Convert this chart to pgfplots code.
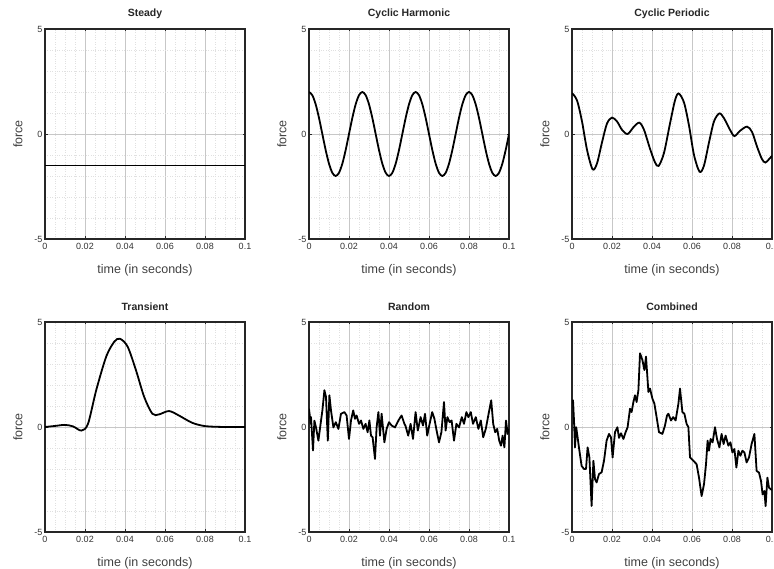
\documentclass[border=0pt]{standalone}
\usepackage{pgfplots}
\pgfplotsset{compat=1.18}
\usepackage{fontspec}
\setmainfont{Liberation Sans}
\pgfplotsset{
  sub/.style={
    scale only axis, width=200pt, height=210pt,
    anchor=north west,
    xmin=0, xmax=0.1, ymin=-5, ymax=5,
    xtick={0,0.02,0.04,0.06,0.08,0.1},
    xticklabels={0,0.02,0.04,0.06,0.08,0.1},
    ytick={-5,0,5},
    yticklabels={-5,0,5},
    /pgf/number format/assume math mode=true,
    minor x tick num=3, minor y tick num=4,
    grid=both,
    major grid style={draw=black!22, line width=0.6pt},
    minor grid style={draw=black!12, dotted, line width=0.4pt},
    axis line style={draw=black!85, line width=1.3pt},
    tick style={draw=black!85, line width=0.6pt},
    major tick length=2.5pt, minor tick length=0pt,
    tick align=inside,
    tick label style={font=\fontsize{9}{10}\selectfont, text=black!80},
    xticklabel style={yshift=-1pt},
    yticklabel style={xshift=1pt},
    label style={font=\fontsize{12.5}{14}\selectfont, text=black!75},
    xlabel={time (in seconds)},
    ylabel={force},
    xlabel style={at={(axis description cs:0.5,-0.148)}, anchor=center},
    ylabel style={at={(axis description cs:-0.135,0.5)}, anchor=center},
    title style={font=\bfseries\fontsize{10.5}{12}\selectfont, text=black!85, at={(axis description cs:0.5,1.045)}, anchor=center},
    cycle list={{black, line width=1.8pt, mark=none}},
    every axis plot/.append style={black, line width=1.8pt, mark=none},
    clip=true,
  }
}
\begin{document}
\begin{tikzpicture}
\useasboundingbox (0,0) rectangle (774pt,-569pt);

% Steady
\begin{axis}[sub, at={(45pt,-29pt)}, title={Steady}]
\addplot[black, line width=1.8pt] coordinates {(0,-1.5) (0.05,-1.5) (0.1,-1.5)};
\end{axis}

% Cyclic Harmonic
\begin{axis}[sub, at={(309pt,-29pt)}, title={Cyclic Harmonic}]
\addplot[smooth] coordinates {
(0,2) (0.001667,1.848) (0.003333,1.414) (0.005,0.765) (0.006667,0) (0.008333,-0.765)
(0.01,-1.414) (0.011667,-1.848) (0.013333,-2) (0.015,-1.848) (0.016667,-1.414) (0.018333,-0.765)
(0.02,0) (0.021667,0.765) (0.023333,1.414) (0.025,1.848) (0.026667,2) (0.028333,1.848)
(0.03,1.414) (0.031667,0.765) (0.033333,0) (0.035,-0.765) (0.036667,-1.414) (0.038333,-1.848)
(0.04,-2) (0.041667,-1.848) (0.043333,-1.414) (0.045,-0.765) (0.046667,0) (0.048333,0.765)
(0.05,1.414) (0.051667,1.848) (0.053333,2) (0.055,1.848) (0.056667,1.414) (0.058333,0.765)
(0.06,0) (0.061667,-0.765) (0.063333,-1.414) (0.065,-1.848) (0.066667,-2) (0.068333,-1.848)
(0.07,-1.414) (0.071667,-0.765) (0.073333,0) (0.075,0.765) (0.076667,1.414) (0.078333,1.848)
(0.08,2) (0.081667,1.848) (0.083333,1.414) (0.085,0.765) (0.086667,0) (0.088333,-0.765)
(0.09,-1.414) (0.091667,-1.848) (0.093333,-2) (0.095,-1.848) (0.096667,-1.414) (0.098333,-0.765)
(0.1,0)};
\end{axis}

% Cyclic Periodic
\begin{axis}[sub, at={(572pt,-29pt)}, title={Cyclic Periodic}]
\addplot[smooth] coordinates {
(0,1.95) (0.0025,1.6) (0.005,0.6) (0.0075,-0.75) (0.0103,-1.68) (0.0125,-1.4)
(0.015,-0.4) (0.0175,0.5) (0.020,0.78) (0.0225,0.6) (0.025,0.2) (0.0278,0.0)
(0.031,0.35) (0.0337,0.54) (0.036,0.2) (0.039,-0.7) (0.0415,-1.35) (0.0433,-1.52)
(0.046,-0.9) (0.049,0.5) (0.0515,1.6) (0.0533,1.93) (0.056,1.5) (0.0585,0.4)
(0.061,-1.0) (0.0638,-1.8) (0.066,-1.5) (0.0685,-0.4) (0.071,0.6) (0.0737,0.98)
(0.076,0.75) (0.079,0.2) (0.0812,-0.1) (0.084,0.15) (0.0875,0.35) (0.090,0.1)
(0.0925,-0.6) (0.095,-1.2) (0.0967,-1.36) (0.0985,-1.2) (0.1,-1.04)};
\end{axis}

% Transient
\begin{axis}[sub, at={(45pt,-322pt)}, title={Transient}]
\addplot[smooth] coordinates {
(0,0) (0.005,0.05) (0.0099,0.1) (0.014,0.03) (0.0182,-0.17) (0.0215,0.15)
(0.0256,1.75) (0.0306,3.35) (0.0347,4.07) (0.0375,4.2) (0.0413,3.83) (0.0455,2.7)
(0.0496,1.43) (0.0537,0.63) (0.057,0.6) (0.062,0.76) (0.0669,0.55) (0.0736,0.2)
(0.0802,0.04) (0.09,0) (0.1,0)};
\end{axis}

% Random
\begin{axis}[sub, at={(309pt,-322pt)}, title={Random}]
\addplot[line join=round] coordinates {
(0,0.87) (0.00085,0.15) (0.001,0.47) (0.002,-1.12) (0.0027,0.3) (0.0035,-0.02)
(0.0047,-0.65) (0.0058,0.15) (0.0067,0.79) (0.0077,1.75) (0.0085,1.43) (0.0094,-0.65)
(0.0102,1.51) (0.011,0.79) (0.0122,-0.02) (0.0134,0.23) (0.0147,-0.09) (0.016,0.63)
(0.0177,0.71) (0.0188,0.55) (0.02,-0.57) (0.021,0.31) (0.0221,0.79) (0.023,0.39)
(0.0238,0.55) (0.025,0.15) (0.026,0.31) (0.0272,-0.09) (0.0283,0.15) (0.0293,-0.25)
(0.0302,0.31) (0.031,-0.41) (0.0318,-0.49) (0.033,-1.52) (0.0338,-0.02) (0.0347,0.71)
(0.0355,-0.41) (0.0363,0.63) (0.0377,-0.73) (0.0388,-0.09) (0.04,0.23) (0.0413,0.07)
(0.043,-0.02) (0.0447,0.31) (0.0463,0.55) (0.0477,0.15) (0.0482,0.07) (0.0496,-0.41)
(0.0508,0.15) (0.052,-0.57) (0.0533,0.71) (0.0544,-0.17) (0.0558,0.47) (0.057,0.07)
(0.058,0.63) (0.0591,-0.41) (0.0603,0.15) (0.0616,0.71) (0.0627,0.39) (0.0638,-0.17)
(0.065,-0.73) (0.0662,-0.25) (0.0675,1.19) (0.0683,-0.17) (0.0692,0.47) (0.0703,0.23)
(0.0713,0.31) (0.0725,-0.65) (0.0737,0.15) (0.075,-0.02) (0.0764,0.47) (0.0775,0.15)
(0.0787,0.71) (0.0797,0.47) (0.0809,0.71) (0.082,0.15) (0.0834,0.47) (0.0847,-0.09)
(0.0859,0.31) (0.0871,-0.49) (0.0884,-0.09) (0.0898,0.63) (0.0911,1.27) (0.0921,0.15)
(0.0931,-0.25) (0.0941,-0.09) (0.0951,-0.65) (0.096,-0.89) (0.0968,-0.41) (0.0977,-0.97)
(0.0985,0.31) (0.0993,-0.33) (0.1,-0.09)};
\end{axis}

% Combined
\begin{axis}[sub, at={(572pt,-322pt)}, title={Combined}]
\addplot[line join=round] coordinates {
(0,1.2) (0.0005,1.27) (0.001,0.31) (0.0015,-0.97) (0.0021,-0.01) (0.0028,-0.49)
(0.0037,-1.13) (0.0048,-1.85) (0.006,-2.0) (0.007,-2.0) (0.0078,-0.97) (0.0087,-1.45)
(0.0098,-3.76) (0.0107,-1.61) (0.0115,-2.48) (0.0123,-2.64) (0.0135,-2.24) (0.0148,-2.16)
(0.016,-1.61) (0.0173,-0.65) (0.0185,-0.33) (0.0195,-0.49) (0.0203,-1.45) (0.0215,-0.25)
(0.0227,-0.01) (0.0235,-0.52) (0.0245,-0.3) (0.0257,-0.57) (0.0268,-0.25) (0.0278,-0.01)
(0.029,0.87) (0.0298,0.71) (0.0307,1.19) (0.0315,1.51) (0.0323,1.19) (0.0332,1.75)
(0.034,3.51) (0.0352,3.19) (0.0362,2.71) (0.037,3.35) (0.0382,1.67) (0.039,1.83)
(0.0402,1.35) (0.0412,1.11) (0.0423,0.47) (0.0435,-0.25) (0.0452,-0.33) (0.0465,0.07)
(0.0475,0.55) (0.0482,0.63) (0.0495,0.31) (0.0506,0.47) (0.0518,0.31) (0.0532,1.11)
(0.054,1.83) (0.0552,0.71) (0.0562,0.63) (0.0573,0.15) (0.0582,-0.01) (0.059,-1.45)
(0.0607,-1.61) (0.0623,-1.77) (0.0635,-2.41) (0.0648,-3.29) (0.066,-2.73) (0.067,-1.77)
(0.0678,-0.65) (0.0685,-1.13) (0.0693,-0.57) (0.0703,-0.73) (0.0715,-0.01) (0.0725,-0.57)
(0.0737,-0.97) (0.0748,-0.33) (0.0758,-0.81) (0.0768,-0.41) (0.0782,-0.89) (0.0792,-0.73)
(0.0802,-1.21) (0.0812,-1.05) (0.0822,-1.93) (0.0832,-1.13) (0.0842,-1.37) (0.0852,-1.13)
(0.0862,-1.21) (0.0873,-1.69) (0.0885,-1.45) (0.0898,-0.81) (0.0912,-0.33) (0.0923,-2.09)
(0.0935,-2.17) (0.0945,-2.57) (0.0953,-3.21) (0.0962,-3.05) (0.0968,-3.77) (0.0977,-2.41)
(0.0985,-2.89) (0.0995,-2.97) (0.1,-3.0)};
\end{axis}
\end{tikzpicture}
\end{document}
